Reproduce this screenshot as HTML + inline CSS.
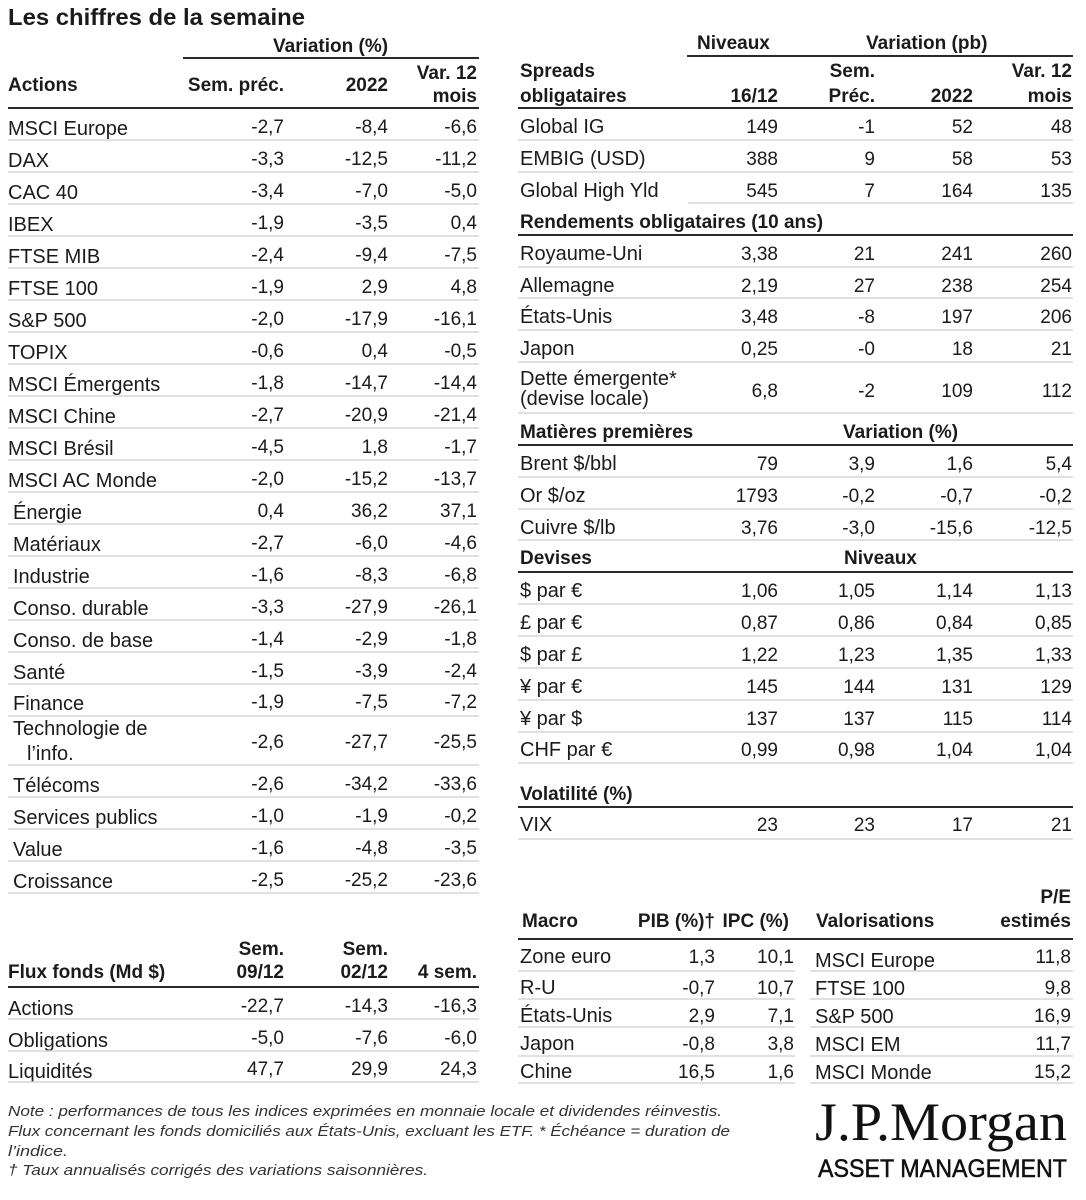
<!DOCTYPE html>
<html lang="fr">
<head>
<meta charset="utf-8">
<title>Les chiffres de la semaine</title>
<style>
  html, body { margin: 0; padding: 0; background: #ffffff; }
  svg { display: block; }
  text { font-family: "Liberation Sans", Arial, sans-serif; font-size: 20px; fill: #1b1b1b; }
  .e { text-anchor: end; font-size: 19px; }
  .b { font-weight: bold; font-size: 19px; }
  .t { font-size: 23px; font-weight: bold; }
  .note { font-size: 15px; font-style: italic; fill: #333333; }
  .sep { stroke: #d6d6d6; stroke-width: 1.5; }
  .hd { stroke: #2a2a2a; stroke-width: 2; }
</style>
</head>
<body>
<svg width="1086" height="1200" viewBox="0 0 1086 1200" xmlns="http://www.w3.org/2000/svg">
<rect x="0" y="0" width="1086" height="1200" fill="#ffffff"/>

<!-- Title -->
<text class="t" x="8" y="25" textLength="297" lengthAdjust="spacingAndGlyphs">Les chiffres de la semaine</text>

<!-- ===== LEFT: Actions ===== -->
<text class="b" x="273" y="52">Variation (%)</text>
<line class="hd" x1="183" y1="58" x2="479" y2="58"/>
<text class="b" x="8" y="91">Actions</text>
<text class="b e" x="284" y="91">Sem. préc.</text>
<text class="b e" x="388" y="91">2022</text>
<text class="b e" x="477" y="79">Var. 12</text>
<text class="b e" x="477" y="102">mois</text>
<line class="hd" x1="8" y1="108" x2="479" y2="108"/>

<!-- rows -->
<text x="8" y="135">MSCI Europe</text><text class="e" x="284" y="133">-2,7</text><text class="e" x="388" y="133">-8,4</text><text class="e" x="477" y="133">-6,6</text>
<line class="sep" x1="8" y1="140" x2="479" y2="140"/>
<text x="8" y="167">DAX</text><text class="e" x="284" y="165">-3,3</text><text class="e" x="388" y="165">-12,5</text><text class="e" x="477" y="165">-11,2</text>
<line class="sep" x1="8" y1="172" x2="479" y2="172"/>
<text x="8" y="199">CAC 40</text><text class="e" x="284" y="197">-3,4</text><text class="e" x="388" y="197">-7,0</text><text class="e" x="477" y="197">-5,0</text>
<line class="sep" x1="8" y1="204" x2="479" y2="204"/>
<text x="8" y="231">IBEX</text><text class="e" x="284" y="229">-1,9</text><text class="e" x="388" y="229">-3,5</text><text class="e" x="477" y="229">0,4</text>
<line class="sep" x1="8" y1="236" x2="479" y2="236"/>
<text x="8" y="263">FTSE MIB</text><text class="e" x="284" y="261">-2,4</text><text class="e" x="388" y="261">-9,4</text><text class="e" x="477" y="261">-7,5</text>
<line class="sep" x1="8" y1="268" x2="479" y2="268"/>
<text x="8" y="295">FTSE 100</text><text class="e" x="284" y="293">-1,9</text><text class="e" x="388" y="293">2,9</text><text class="e" x="477" y="293">4,8</text>
<line class="sep" x1="8" y1="300" x2="479" y2="300"/>
<text x="8" y="327">S&amp;P 500</text><text class="e" x="284" y="325">-2,0</text><text class="e" x="388" y="325">-17,9</text><text class="e" x="477" y="325">-16,1</text>
<line class="sep" x1="8" y1="332" x2="479" y2="332"/>
<text x="8" y="359">TOPIX</text><text class="e" x="284" y="357">-0,6</text><text class="e" x="388" y="357">0,4</text><text class="e" x="477" y="357">-0,5</text>
<line class="sep" x1="8" y1="364" x2="479" y2="364"/>
<text x="8" y="391">MSCI Émergents</text><text class="e" x="284" y="389">-1,8</text><text class="e" x="388" y="389">-14,7</text><text class="e" x="477" y="389">-14,4</text>
<line class="sep" x1="8" y1="396" x2="479" y2="396"/>
<text x="8" y="423">MSCI Chine</text><text class="e" x="284" y="421">-2,7</text><text class="e" x="388" y="421">-20,9</text><text class="e" x="477" y="421">-21,4</text>
<line class="sep" x1="8" y1="428" x2="479" y2="428"/>
<text x="8" y="455">MSCI Brésil</text><text class="e" x="284" y="453">-4,5</text><text class="e" x="388" y="453">1,8</text><text class="e" x="477" y="453">-1,7</text>
<line class="sep" x1="8" y1="460" x2="479" y2="460"/>
<text x="8" y="487">MSCI AC Monde</text><text class="e" x="284" y="485">-2,0</text><text class="e" x="388" y="485">-15,2</text><text class="e" x="477" y="485">-13,7</text>
<line class="sep" x1="8" y1="492" x2="479" y2="492"/>
<text x="13" y="519">Énergie</text><text class="e" x="284" y="517">0,4</text><text class="e" x="388" y="517">36,2</text><text class="e" x="477" y="517">37,1</text>
<line class="sep" x1="8" y1="524" x2="479" y2="524"/>
<text x="13" y="551">Matériaux</text><text class="e" x="284" y="549">-2,7</text><text class="e" x="388" y="549">-6,0</text><text class="e" x="477" y="549">-4,6</text>
<line class="sep" x1="8" y1="556" x2="479" y2="556"/>
<text x="13" y="583">Industrie</text><text class="e" x="284" y="581">-1,6</text><text class="e" x="388" y="581">-8,3</text><text class="e" x="477" y="581">-6,8</text>
<line class="sep" x1="8" y1="588" x2="479" y2="588"/>
<text x="13" y="615">Conso. durable</text><text class="e" x="284" y="613">-3,3</text><text class="e" x="388" y="613">-27,9</text><text class="e" x="477" y="613">-26,1</text>
<line class="sep" x1="8" y1="620" x2="479" y2="620"/>
<text x="13" y="647">Conso. de base</text><text class="e" x="284" y="645">-1,4</text><text class="e" x="388" y="645">-2,9</text><text class="e" x="477" y="645">-1,8</text>
<line class="sep" x1="8" y1="652" x2="479" y2="652"/>
<text x="13" y="679">Santé</text><text class="e" x="284" y="677">-1,5</text><text class="e" x="388" y="677">-3,9</text><text class="e" x="477" y="677">-2,4</text>
<line class="sep" x1="8" y1="684" x2="479" y2="684"/>
<text x="13" y="710">Finance</text><text class="e" x="284" y="708">-1,9</text><text class="e" x="388" y="708">-7,5</text><text class="e" x="477" y="708">-7,2</text>
<line class="sep" x1="8" y1="716" x2="479" y2="716"/>
<text x="13" y="735">Technologie de</text><text x="27" y="760">l’info.</text><text class="e" x="284" y="748">-2,6</text><text class="e" x="388" y="748">-27,7</text><text class="e" x="477" y="748">-25,5</text>
<line class="sep" x1="8" y1="765" x2="479" y2="765"/>
<text x="13" y="792">Télécoms</text><text class="e" x="284" y="790">-2,6</text><text class="e" x="388" y="790">-34,2</text><text class="e" x="477" y="790">-33,6</text>
<line class="sep" x1="8" y1="797" x2="479" y2="797"/>
<text x="13" y="824">Services publics</text><text class="e" x="284" y="822">-1,0</text><text class="e" x="388" y="822">-1,9</text><text class="e" x="477" y="822">-0,2</text>
<line class="sep" x1="8" y1="829" x2="479" y2="829"/>
<text x="13" y="856">Value</text><text class="e" x="284" y="854">-1,6</text><text class="e" x="388" y="854">-4,8</text><text class="e" x="477" y="854">-3,5</text>
<line class="sep" x1="8" y1="861" x2="479" y2="861"/>
<text x="13" y="888">Croissance</text><text class="e" x="284" y="886">-2,5</text><text class="e" x="388" y="886">-25,2</text><text class="e" x="477" y="886">-23,6</text>
<line class="sep" x1="8" y1="893" x2="479" y2="893"/>

<!-- ===== LEFT BOTTOM: Flux fonds ===== -->
<text class="b e" x="284" y="955">Sem.</text>
<text class="b e" x="284" y="978">09/12</text>
<text class="b e" x="388" y="955">Sem.</text>
<text class="b e" x="388" y="978">02/12</text>
<text class="b e" x="477" y="978">4 sem.</text>
<text class="b" x="8" y="978">Flux fonds (Md $)</text>
<line class="hd" x1="8" y1="987" x2="479" y2="987"/>
<text x="8" y="1015">Actions</text><text class="e" x="284" y="1012">-22,7</text><text class="e" x="388" y="1012">-14,3</text><text class="e" x="477" y="1012">-16,3</text>
<line class="sep" x1="8" y1="1019" x2="479" y2="1019"/>
<text x="8" y="1047">Obligations</text><text class="e" x="284" y="1044">-5,0</text><text class="e" x="388" y="1044">-7,6</text><text class="e" x="477" y="1044">-6,0</text>
<line class="sep" x1="8" y1="1051" x2="479" y2="1051"/>
<text x="8" y="1078">Liquidités</text><text class="e" x="284" y="1075">47,7</text><text class="e" x="388" y="1075">29,9</text><text class="e" x="477" y="1075">24,3</text>
<line class="sep" x1="8" y1="1082" x2="479" y2="1082"/>

<!-- ===== RIGHT: Spreads ===== -->
<text class="b" x="697" y="49">Niveaux</text>
<text class="b" x="866" y="49">Variation (pb)</text>
<line class="hd" x1="687" y1="56" x2="1073" y2="56"/>
<text class="b" x="520" y="77">Spreads</text>
<text class="b" x="520" y="102">obligataires</text>
<text class="b e" x="778" y="102">16/12</text>
<text class="b e" x="875" y="77">Sem.</text>
<text class="b e" x="875" y="102">Préc.</text>
<text class="b e" x="973" y="102">2022</text>
<text class="b e" x="1072" y="77">Var. 12</text>
<text class="b e" x="1072" y="102">mois</text>
<line class="hd" x1="518" y1="108" x2="1073" y2="108"/>

<text x="520" y="133">Global IG</text><text class="e" x="778" y="133">149</text><text class="e" x="875" y="133">-1</text><text class="e" x="973" y="133">52</text><text class="e" x="1072" y="133">48</text>
<line class="sep" x1="518" y1="140" x2="1073" y2="140"/>
<text x="520" y="165">EMBIG (USD)</text><text class="e" x="778" y="165">388</text><text class="e" x="875" y="165">9</text><text class="e" x="973" y="165">58</text><text class="e" x="1072" y="165">53</text>
<line class="sep" x1="518" y1="172" x2="1073" y2="172"/>
<text x="520" y="197">Global High Yld</text><text class="e" x="778" y="197">545</text><text class="e" x="875" y="197">7</text><text class="e" x="973" y="197">164</text><text class="e" x="1072" y="197">135</text>
<line class="sep" x1="688" y1="203" x2="1073" y2="203"/>

<text class="b" x="520" y="228">Rendements obligataires (10 ans)</text>
<line class="hd" x1="518" y1="235" x2="1073" y2="235"/>
<text x="520" y="260">Royaume-Uni</text><text class="e" x="778" y="260">3,38</text><text class="e" x="875" y="260">21</text><text class="e" x="973" y="260">241</text><text class="e" x="1072" y="260">260</text>
<line class="sep" x1="518" y1="267" x2="1073" y2="267"/>
<text x="520" y="292">Allemagne</text><text class="e" x="778" y="292">2,19</text><text class="e" x="875" y="292">27</text><text class="e" x="973" y="292">238</text><text class="e" x="1072" y="292">254</text>
<line class="sep" x1="518" y1="298" x2="1073" y2="298"/>
<text x="520" y="323">États-Unis</text><text class="e" x="778" y="323">3,48</text><text class="e" x="875" y="323">-8</text><text class="e" x="973" y="323">197</text><text class="e" x="1072" y="323">206</text>
<line class="sep" x1="518" y1="330" x2="1073" y2="330"/>
<text x="520" y="355">Japon</text><text class="e" x="778" y="355">0,25</text><text class="e" x="875" y="355">-0</text><text class="e" x="973" y="355">18</text><text class="e" x="1072" y="355">21</text>
<line class="sep" x1="518" y1="362" x2="1073" y2="362"/>
<text x="520" y="385">Dette émergente*</text><text x="520" y="405">(devise locale)</text><text class="e" x="778" y="397">6,8</text><text class="e" x="875" y="397">-2</text><text class="e" x="973" y="397">109</text><text class="e" x="1072" y="397">112</text>
<line class="sep" x1="518" y1="413" x2="1073" y2="413"/>

<text class="b" x="520" y="438">Matières premières</text>
<text class="b" x="843" y="438">Variation (%)</text>
<line class="hd" x1="518" y1="445" x2="1073" y2="445"/>
<text x="520" y="470">Brent $/bbl</text><text class="e" x="778" y="470">79</text><text class="e" x="875" y="470">3,9</text><text class="e" x="973" y="470">1,6</text><text class="e" x="1072" y="470">5,4</text>
<line class="sep" x1="518" y1="477" x2="1073" y2="477"/>
<text x="520" y="502">Or $/oz</text><text class="e" x="778" y="502">1793</text><text class="e" x="875" y="502">-0,2</text><text class="e" x="973" y="502">-0,7</text><text class="e" x="1072" y="502">-0,2</text>
<line class="sep" x1="518" y1="509" x2="1073" y2="509"/>
<text x="520" y="534">Cuivre $/lb</text><text class="e" x="778" y="534">3,76</text><text class="e" x="875" y="534">-3,0</text><text class="e" x="973" y="534">-15,6</text><text class="e" x="1072" y="534">-12,5</text>
<line class="sep" x1="518" y1="540" x2="1073" y2="540"/>

<text class="b" x="520" y="564">Devises</text>
<text class="b" x="844" y="564">Niveaux</text>
<line class="hd" x1="518" y1="572" x2="1073" y2="572"/>
<text x="520" y="597">$ par €</text><text class="e" x="778" y="597">1,06</text><text class="e" x="875" y="597">1,05</text><text class="e" x="973" y="597">1,14</text><text class="e" x="1072" y="597">1,13</text>
<line class="sep" x1="518" y1="604" x2="1073" y2="604"/>
<text x="520" y="629">£ par €</text><text class="e" x="778" y="629">0,87</text><text class="e" x="875" y="629">0,86</text><text class="e" x="973" y="629">0,84</text><text class="e" x="1072" y="629">0,85</text>
<line class="sep" x1="518" y1="636" x2="1073" y2="636"/>
<text x="520" y="661">$ par £</text><text class="e" x="778" y="661">1,22</text><text class="e" x="875" y="661">1,23</text><text class="e" x="973" y="661">1,35</text><text class="e" x="1072" y="661">1,33</text>
<line class="sep" x1="518" y1="668" x2="1073" y2="668"/>
<text x="520" y="693">¥ par €</text><text class="e" x="778" y="693">145</text><text class="e" x="875" y="693">144</text><text class="e" x="973" y="693">131</text><text class="e" x="1072" y="693">129</text>
<line class="sep" x1="518" y1="700" x2="1073" y2="700"/>
<text x="520" y="725">¥ par $</text><text class="e" x="778" y="725">137</text><text class="e" x="875" y="725">137</text><text class="e" x="973" y="725">115</text><text class="e" x="1072" y="725">114</text>
<line class="sep" x1="518" y1="732" x2="1073" y2="732"/>
<text x="520" y="756">CHF par €</text><text class="e" x="778" y="756">0,99</text><text class="e" x="875" y="756">0,98</text><text class="e" x="973" y="756">1,04</text><text class="e" x="1072" y="756">1,04</text>
<line class="sep" x1="518" y1="763" x2="1073" y2="763"/>

<text class="b" x="520" y="800">Volatilité (%)</text>
<line class="hd" x1="518" y1="807" x2="1073" y2="807"/>
<text x="520" y="831">VIX</text><text class="e" x="778" y="831">23</text><text class="e" x="875" y="831">23</text><text class="e" x="973" y="831">17</text><text class="e" x="1072" y="831">21</text>
<line class="sep" x1="518" y1="839" x2="1073" y2="839"/>

<!-- ===== RIGHT BOTTOM: Macro / Valorisations ===== -->
<text class="b e" x="1071" y="903">P/E</text>
<text class="b e" x="1071" y="927">estimés</text>
<text class="b" x="522" y="927">Macro</text>
<text class="b e" x="715" y="927">PIB (%)†</text>
<text class="b e" x="789" y="927">IPC (%)</text>
<text class="b" x="816" y="927">Valorisations</text>
<line class="hd" x1="518" y1="939" x2="1073" y2="939"/>

<text x="520" y="963">Zone euro</text><text class="e" x="715" y="963">1,3</text><text class="e" x="794" y="963">10,1</text>
<text x="815" y="967">MSCI Europe</text><text class="e" x="1071" y="963">11,8</text>
<line class="sep" x1="518" y1="971" x2="795" y2="971"/><line class="sep" x1="810" y1="971" x2="1073" y2="971"/>
<text x="520" y="994">R-U</text><text class="e" x="715" y="994">-0,7</text><text class="e" x="794" y="994">10,7</text>
<text x="815" y="995">FTSE 100</text><text class="e" x="1071" y="994">9,8</text>
<line class="sep" x1="518" y1="999" x2="795" y2="999"/><line class="sep" x1="810" y1="999" x2="1073" y2="999"/>
<text x="520" y="1022">États-Unis</text><text class="e" x="715" y="1022">2,9</text><text class="e" x="794" y="1022">7,1</text>
<text x="815" y="1023">S&amp;P 500</text><text class="e" x="1071" y="1022">16,9</text>
<line class="sep" x1="518" y1="1027" x2="795" y2="1027"/><line class="sep" x1="810" y1="1027" x2="1073" y2="1027"/>
<text x="520" y="1050">Japon</text><text class="e" x="715" y="1050">-0,8</text><text class="e" x="794" y="1050">3,8</text>
<text x="815" y="1051">MSCI EM</text><text class="e" x="1071" y="1050">11,7</text>
<line class="sep" x1="518" y1="1056" x2="795" y2="1056"/><line class="sep" x1="810" y1="1056" x2="1073" y2="1056"/>
<text x="520" y="1078">Chine</text><text class="e" x="715" y="1078">16,5</text><text class="e" x="794" y="1078">1,6</text>
<text x="815" y="1079">MSCI Monde</text><text class="e" x="1071" y="1078">15,2</text>
<line class="sep" x1="518" y1="1083" x2="795" y2="1083"/><line class="sep" x1="810" y1="1083" x2="1073" y2="1083"/>

<!-- ===== Footer notes ===== -->
<text class="note" x="8" y="1116" textLength="714" lengthAdjust="spacingAndGlyphs">Note : performances de tous les indices exprimées en monnaie locale et dividendes réinvestis.</text>
<text class="note" x="8" y="1136" textLength="722" lengthAdjust="spacingAndGlyphs">Flux concernant  les fonds domiciliés aux États-Unis, excluant les ETF. * Échéance = duration de</text>
<text class="note" x="8" y="1156" textLength="60" lengthAdjust="spacingAndGlyphs">l’indice.</text>
<text class="note" x="8" y="1175" textLength="420" lengthAdjust="spacingAndGlyphs">† Taux annualisés corrigés des variations saisonnières.</text>

<!-- ===== Logo ===== -->
<text x="815" y="1140" style="font-family:'Liberation Serif','Times New Roman',serif;font-size:54px;fill:#111;" textLength="252" lengthAdjust="spacingAndGlyphs">J.P.Morgan</text>
<text x="818" y="1177" style="font-family:'Liberation Sans',Arial,sans-serif;font-size:25px;fill:#111;stroke:#111;stroke-width:0.5;" textLength="249" lengthAdjust="spacingAndGlyphs">ASSET MANAGEMENT</text>
</svg>
</body>
</html>
